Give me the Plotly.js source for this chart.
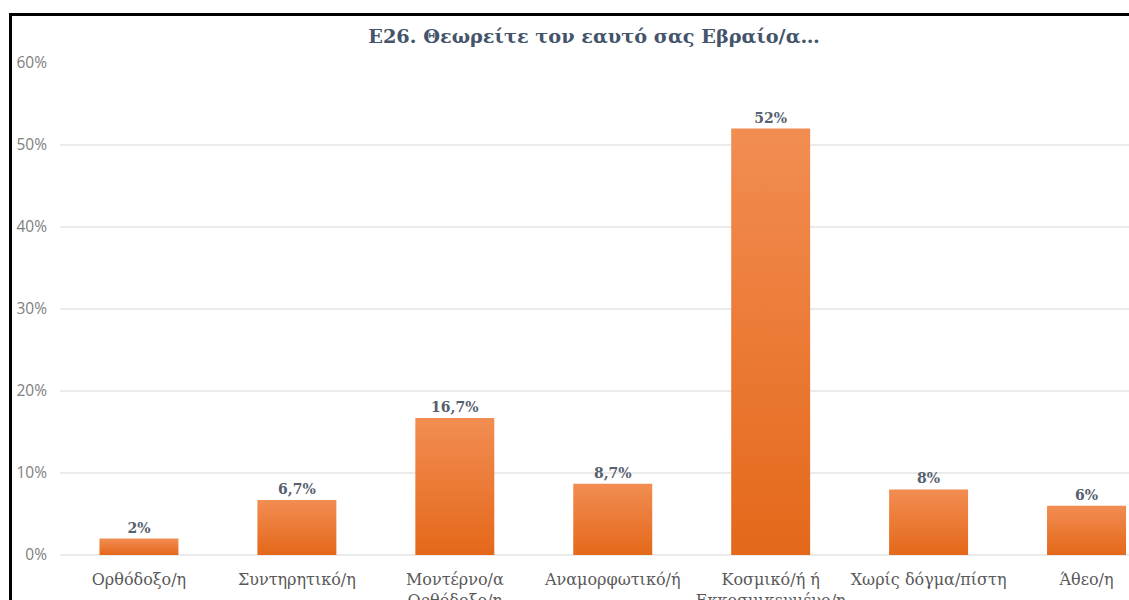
<!DOCTYPE html>
<html>
<head>
<meta charset="utf-8">
<script src="https://cdn.plot.ly/plotly-3.0.1.min.js"></script>
<style>
  html, body { margin: 0; padding: 0; background: #ffffff; overflow: hidden; }
  #wrap { position: relative; width: 1129px; height: 600px; }
  #chart { position: absolute; left: 0; top: 0; width: 1129px; height: 600px; }
  #frame { position: absolute; left: 9px; top: 13px; width: 1200px; height: 700px;
           border-left: 3px solid #000; border-top: 3px solid #000; pointer-events: none; }
</style>
</head>
<body>
<div id="wrap">
  <div id="chart"></div>
  <div id="frame"></div>
</div>
<script>
const categories = [
  "Ορθόδοξο/η",
  "Συντηρητικό/η",
  "Μοντέρνο/α<br>Ορθόδοξο/η",
  "Αναμορφωτικό/ή",
  "Κοσμικό/ή ή<br>Εκκοσμικευμένο/η",
  "Χωρίς δόγμα/πίστη",
  "Άθεο/η"
];
const values = [2, 6.7, 16.7, 8.7, 52, 8, 6];
const yTickValues = [0, 10, 20, 30, 40, 50, 60];
const yTickLabels = ["0%", "10%", "20%", "30%", "40%", "50%", "60%"];
const titleText = "Ε26. Θεωρείτε τον εαυτό σας Εβραίο/α…";

const labels = values.map(v => String(v).replace('.', ',') + '%');

const trace = {
  type: 'bar',
  x: categories,
  y: values,
  text: labels,
  textposition: 'outside',
  cliponaxis: false,
  textfont: { family: 'DejaVu Serif, serif', size: 14, color: '#56606e' },
  texttemplate: '<b>%{text}</b>',
  marker: { color: '#EC7A35', line: { width: 0 } },
  hoverinfo: 'none'
};

const layout = {
  width: 1129,
  height: 600,
  margin: { l: 59.5, r: 0, t: 63, b: 45, pad: 0 },
  paper_bgcolor: '#ffffff',
  plot_bgcolor: '#ffffff',
  bargap: 0.5,
  showlegend: false,
  title: {
    text: '<b>' + titleText + '</b>',
    font: { family: 'DejaVu Serif, serif', size: 19.3, color: '#44546A' },
    xref: 'container', x: 594 / 1129, xanchor: 'center',
    yref: 'container', y: 1 - 36 / 600, yanchor: 'middle'
  },
  xaxis: {
    type: 'category',
    range: [-0.5, (1129 - 59.5) / 158 - 0.5],
    showgrid: false,
    zeroline: false,
    showline: false,
    ticks: '',
    tickangle: 0,
    tickfont: { family: 'DejaVu Serif, serif', size: 16, color: '#595959' },
    ticklabelstandoff: 13,
    fixedrange: true
  },
  yaxis: {
    range: [0, 60],
    tickvals: yTickValues,
    ticktext: yTickLabels,
    showgrid: true,
    gridcolor: '#ebebeb',
    gridwidth: 1.5,
    zeroline: true,
    zerolinecolor: '#ebebeb',
    zerolinewidth: 1.5,
    showline: false,
    ticks: '',
    ticklabelstandoff: 12,
    tickfont: { family: 'Open Sans, sans-serif', size: 15.5, color: '#808080' },
    fixedrange: true
  }
};

function applyGradient() {
  const gd = document.getElementById('chart');
  const svg = gd.querySelector('svg.main-svg');
  if (!svg) return;
  if (!svg.querySelector('#barGrad')) {
    const ns = 'http://www.w3.org/2000/svg';
    const defs = document.createElementNS(ns, 'defs');
    const lg = document.createElementNS(ns, 'linearGradient');
    lg.setAttribute('id', 'barGrad');
    lg.setAttribute('x1', '0'); lg.setAttribute('y1', '0');
    lg.setAttribute('x2', '0'); lg.setAttribute('y2', '1');
    const s1 = document.createElementNS(ns, 'stop');
    s1.setAttribute('offset', '0'); s1.setAttribute('stop-color', '#F28D52');
    const s2 = document.createElementNS(ns, 'stop');
    s2.setAttribute('offset', '1'); s2.setAttribute('stop-color', '#E4681A');
    lg.appendChild(s1); lg.appendChild(s2);
    defs.appendChild(lg);
    svg.insertBefore(defs, svg.firstChild);
  }
  gd.querySelectorAll('.bars .point path').forEach(p => { p.style.fill = 'url(#barGrad)'; });
}

Plotly.newPlot('chart', [trace], layout, { displayModeBar: false, staticPlot: true })
  .then(gd => { applyGradient(); gd.on('plotly_afterplot', applyGradient); });
</script>
</body>
</html>
